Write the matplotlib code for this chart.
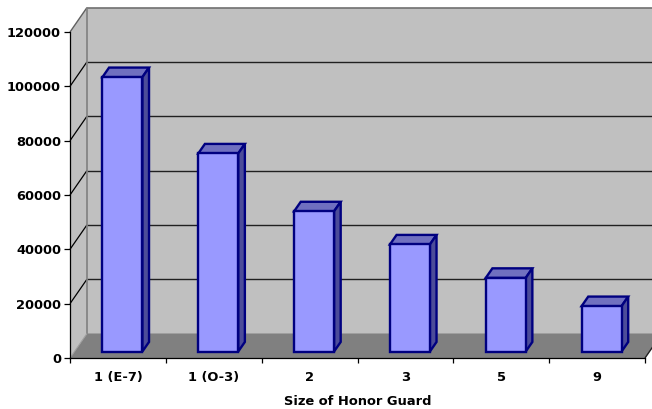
import matplotlib.pyplot as plt
from matplotlib.patches import Polygon
from matplotlib.ticker import FixedLocator, NullFormatter

# Data
categories = ["1 (E-7)", "1 (O-3)", "2", "3", "5", "9"]
values = [101000, 72900, 51600, 39400, 27100, 16700]
y_ticks = [0, 20000, 40000, 60000, 80000, 100000, 120000]
x_title = "Size of Honor Guard"

# Figure / axes geometry (pixels)
W, H = 652, 409
AX_L, AX_R, AX_B, AX_T = 70, 645, 358, 32
DEPTH_PX = (17.0, 24.5)          # oblique offset of the back wall
BAR_F0, BAR_F1 = 0.265, 0.655    # depth range of the columns
BAR_W = 0.417                    # column width in category units

plt.rcParams["font.family"] = ["DejaVu Sans"]
plt.rcParams["font.weight"] = "bold"
plt.rcParams["font.size"] = 9.4

fig = plt.figure(figsize=(W / 100, H / 100), dpi=100)
ax = fig.add_axes([AX_L / W, (H - AX_B) / H, (AX_R - AX_L) / W, (AX_B - AX_T) / H])
n = len(categories)
ax.set_xlim(-0.5, n - 0.5)
ax.set_ylim(y_ticks[0], y_ticks[-1])
ax.patch.set_visible(False)

# convert the pixel depth offset into data units
px_per_x = (AX_R - AX_L) / n
px_per_y = (AX_B - AX_T) / (y_ticks[-1] - y_ticks[0])
ddx = DEPTH_PX[0] / px_per_x
ddy = DEPTH_PX[1] / px_per_y


def pt(x, y, f):
    return (x + f * ddx, y + f * ddy)


def face(points, fc, ec="none", lw=0.0, z=1.0):
    p = Polygon(points, closed=True, facecolor=fc, edgecolor=ec, linewidth=lw,
                joinstyle="miter", clip_on=False, zorder=z)
    ax.add_patch(p)


def seg(p0, p1, color, lw=1.0, z=1.2):
    ax.plot([p0[0], p1[0]], [p0[1], p1[1]], color=color, lw=lw,
            clip_on=False, zorder=z, solid_capstyle="butt")


x0, x1 = -0.5, n - 0.5
ymin, ymax = y_ticks[0], y_ticks[-1]
wall = "#C0C0C0"
floor = "#808080"

# back wall, left wall and floor
face([pt(x0, ymin, 1), pt(x1 + 1, ymin, 1), pt(x1 + 1, ymax, 1), pt(x0, ymax, 1)], wall, z=0.5)
face([pt(x0, ymin, 0), pt(x0, ymin, 1), pt(x0, ymax, 1), pt(x0, ymax, 0)], wall, z=0.6)
face([pt(x0, ymin, 0), pt(x1, ymin, 0), pt(x1, ymin, 1), pt(x0, ymin, 1)], floor, z=0.7)

# gridlines on the walls
for v in y_ticks[1:-1]:
    seg(pt(x0, v, 1), pt(x1 + 1, v, 1), "#202020", 1.0)
    seg(pt(x0, v, 0), pt(x0, v, 1), "black", 0.9)
# wall edges
seg(pt(x0, ymax, 0), pt(x0, ymax, 1), "#606060", 1.0)
seg(pt(x0, ymax, 1), pt(x1 + 1, ymax, 1), "#707070", 1.2)
seg(pt(x0, ymin, 1), pt(x0, ymax, 1), "#808080", 1.2)
seg(pt(x0, ymin, 0), pt(x0, ymin, 1), "#A0A0A0", 0.8)
seg(pt(x1, ymin, 0), pt(x1, ymin, 1), "#202020", 1.0)

# columns: front faces via ax.bar, top and side faces as polygons
edge = "#000080"
front_c, top_c, side_c = "#9999FF", "#7070C0", "#4C4C99"
xs = list(range(n))
ax.bar([x + BAR_F0 * ddx for x in xs], values, width=BAR_W, bottom=BAR_F0 * ddy,
       color=front_c, edgecolor=edge, linewidth=1.7, zorder=3, clip_on=False)
for x, v in zip(xs, values):
    xl, xr = x - BAR_W / 2, x + BAR_W / 2
    face([pt(xl, v, BAR_F0), pt(xr, v, BAR_F0), pt(xr, v, BAR_F1), pt(xl, v, BAR_F1)],
         top_c, edge, 1.7, z=2.9)
    face([pt(xr, 0, BAR_F0), pt(xr, 0, BAR_F1), pt(xr, v, BAR_F1), pt(xr, v, BAR_F0)],
         side_c, edge, 1.7, z=2.9)

# axes
for s in ("top", "right"):
    ax.spines[s].set_visible(False)
for s in ("left", "bottom"):
    ax.spines[s].set_color("black")
    ax.spines[s].set_linewidth(0.9)
    ax.spines[s].set_zorder(4)

ax.set_yticks(y_ticks)
ax.set_yticklabels([str(v) for v in y_ticks])
ax.tick_params(axis="y", length=4.3, width=0.9, direction="out", pad=2.2)

ax.xaxis.set_major_locator(FixedLocator([i - 0.5 for i in range(n + 1)]))
ax.xaxis.set_major_formatter(NullFormatter())
ax.xaxis.set_minor_locator(FixedLocator(xs))
ax.set_xticklabels(categories, minor=True)
ax.tick_params(axis="x", which="major", length=3.6, width=0.9, direction="out")
ax.tick_params(axis="x", which="minor", length=0, pad=9.5)
ax.set_xlabel(x_title, labelpad=8, fontweight="bold")

fig.savefig("out.png", dpi=100)
